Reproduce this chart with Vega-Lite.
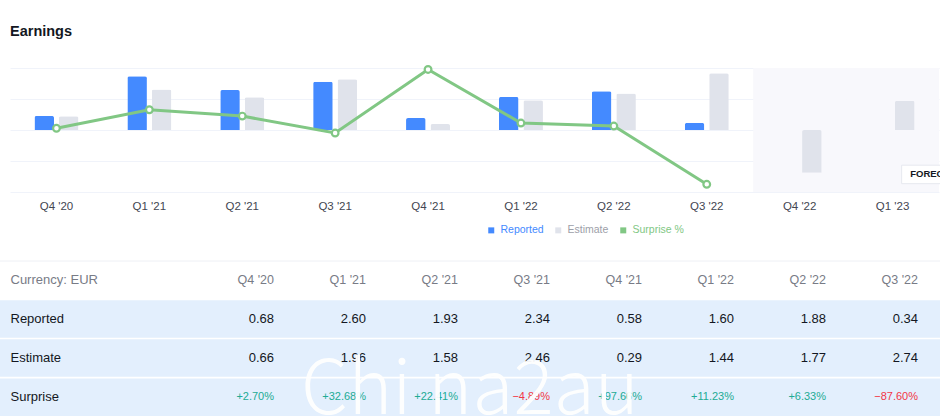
{
  "$schema": "https://vega.github.io/schema/vega-lite/v6.json",
  "width": 940,
  "height": 416,
  "padding": 0,
  "autosize": "none",
  "background": "white",
  "config": {"view": {"stroke": null}, "font": "Liberation Sans"},
  "title": {"text": "Earnings", "anchor": "start", "frame": "group", "offset": -50, "baseline": "alphabetic", "dx": 10, "fontSize": 14.5, "fontWeight": "bold", "color": "#131722"},
  "datasets": {
    "earnings": [
      {"quarter": "Q4 '20", "measure": "Reported", "value": 0.68},
      {"quarter": "Q4 '20", "measure": "Estimate", "value": 0.66},
      {"quarter": "Q4 '20", "measure": "Surprise", "value": 0.0270},
      {"quarter": "Q1 '21", "measure": "Reported", "value": 2.60},
      {"quarter": "Q1 '21", "measure": "Estimate", "value": 1.96},
      {"quarter": "Q1 '21", "measure": "Surprise", "value": 0.3268},
      {"quarter": "Q2 '21", "measure": "Reported", "value": 1.93},
      {"quarter": "Q2 '21", "measure": "Estimate", "value": 1.58},
      {"quarter": "Q2 '21", "measure": "Surprise", "value": 0.2241},
      {"quarter": "Q3 '21", "measure": "Reported", "value": 2.34},
      {"quarter": "Q3 '21", "measure": "Estimate", "value": 2.46},
      {"quarter": "Q3 '21", "measure": "Surprise", "value": -0.0489},
      {"quarter": "Q4 '21", "measure": "Reported", "value": 0.58},
      {"quarter": "Q4 '21", "measure": "Estimate", "value": 0.29},
      {"quarter": "Q4 '21", "measure": "Surprise", "value": 0.9766},
      {"quarter": "Q1 '22", "measure": "Reported", "value": 1.60},
      {"quarter": "Q1 '22", "measure": "Estimate", "value": 1.44},
      {"quarter": "Q1 '22", "measure": "Surprise", "value": 0.1123},
      {"quarter": "Q2 '22", "measure": "Reported", "value": 1.88},
      {"quarter": "Q2 '22", "measure": "Estimate", "value": 1.77},
      {"quarter": "Q2 '22", "measure": "Surprise", "value": 0.0633},
      {"quarter": "Q3 '22", "measure": "Reported", "value": 0.34},
      {"quarter": "Q3 '22", "measure": "Estimate", "value": 2.74},
      {"quarter": "Q3 '22", "measure": "Surprise", "value": -0.8760},
      {"quarter": "Q4 '22", "measure": "Estimate", "value": -2.07},
      {"quarter": "Q1 '23", "measure": "Estimate", "value": 1.42}
    ],
    "forecast": [{"quarter": "Q4 '22"}, {"quarter": "Q1 '23"}],
    "rows": [{"row": "Reported"}, {"row": "Estimate"}, {"row": "Surprise"}]
  },
  "layer": [
    {
      "layer": [
        {
          "layer": [
            {
              "data": {"name": "forecast"},
              "mark": {"type": "rect", "fill": "#f8f8fc"},
              "encoding": {
                "x": {"field": "quarter", "type": "nominal", "sort": null,
                      "scale": {"type": "band", "domain": ["Q4 '20","Q1 '21","Q2 '21","Q3 '21","Q4 '21","Q1 '22","Q2 '22","Q3 '22","Q4 '22","Q1 '23"], "range": [10, 939], "paddingInner": 0, "paddingOuter": 0},
                      "axis": {"orient": "bottom", "offset": -224, "title": null, "domain": false, "ticks": false, "grid": false, "labelPadding": 8, "labelFontSize": 11.5, "labelColor": "#434651", "labelAngle": 0}},
                "y": {"datum": 3, "type": "quantitative",
                      "scale": {"domain": [-3, 3], "range": [192, 68], "nice": false, "zero": false},
                      "axis": {"values": [-3, -1.5, 0, 1.5, 3], "grid": true, "gridColor": "#f0f3fa", "labels": false, "ticks": false, "domain": false, "title": null}},
                "y2": {"datum": -3}
              }
            },
            {
              "data": {"name": "earnings"},
              "transform": [{"filter": {"field": "measure", "oneOf": ["Reported", "Estimate"]}}],
              "mark": {"type": "bar", "cornerRadiusEnd": 2},
              "encoding": {
                "x": {"field": "quarter", "type": "nominal", "sort": null,
                      "scale": {"type": "band", "domain": ["Q4 '20","Q1 '21","Q2 '21","Q3 '21","Q4 '21","Q1 '22","Q2 '22","Q3 '22","Q4 '22","Q1 '23"], "range": [10, 939], "paddingInner": 0, "paddingOuter": 0},
                      "axis": {"orient": "bottom", "offset": -224, "title": null, "domain": false, "ticks": false, "grid": false, "labelPadding": 8, "labelFontSize": 11.5, "labelColor": "#434651", "labelAngle": 0}},
                "xOffset": {"field": "measure", "type": "nominal", "scale": {"domain": ["Reported", "Estimate"], "paddingInner": 0.2, "paddingOuter": 1}},
                "y": {"field": "value", "type": "quantitative",
                      "scale": {"domain": [-3, 3], "range": [192, 68], "nice": false, "zero": false},
                      "axis": {"values": [-3, -1.5, 0, 1.5, 3], "grid": true, "gridColor": "#f0f3fa", "labels": false, "ticks": false, "domain": false, "title": null}},
                "color": {"field": "measure", "type": "nominal",
                          "scale": {"domain": ["Reported", "Estimate", "Surprise %"], "range": ["#448aff", "#e0e3eb", "#81c784"]},
                          "legend": {"orient": "none", "legendX": 486, "legendY": 225, "direction": "horizontal", "title": null,
                                     "symbolType": "square", "symbolSize": 36, "symbolStrokeWidth": 0, "labelFontSize": 10.5, "labelOffset": 4, "columnPadding": 9, "padding": 0,
                                     "encode": {
                                       "symbols": {"update": {"fill": {"signal": "datum.value === 'Reported' ? '#448aff' : datum.value === 'Estimate' ? '#9da0a8' : '#81c784'"}, "stroke": {"value": "transparent"}, "opacity": {"value": 1}}},
                                       "labels": {"update": {"fill": {"signal": "datum.value === 'Reported' ? '#448aff' : datum.value === 'Estimate' ? '#9da0a8' : '#81c784'"}}}
                                     }}}
              }
            },
            {
              "data": {"values": [{"label": "FORECAST"}]},
              "mark": {"type": "point", "shape": "M-1,-0.22H1V0.22H-1Z", "filled": true, "fill": "white", "stroke": "#e6e8ef", "strokeWidth": 1, "size": 7056, "opacity": 1},
              "encoding": {
                "x": {"datum": "Q1 '23", "type": "nominal", "bandPosition": 1.05},
                "y": {"datum": -2.15, "type": "quantitative"}
              }
            },
            {
              "data": {"values": [{"label": "FORECAST"}]},
              "mark": {"type": "text", "align": "left", "baseline": "middle", "fontSize": 9.5, "fontWeight": 600, "color": "#131722"},
              "encoding": {
                "x": {"datum": "Q1 '23", "type": "nominal", "bandPosition": 0.69},
                "y": {"datum": -2.15, "type": "quantitative"},
                "text": {"field": "label"}
              }
            }
          ]
        },
        {
          "data": {"name": "earnings"},
          "transform": [{"filter": {"field": "measure", "equal": "Surprise"}}],
          "encoding": {
            "x": {"field": "quarter", "type": "nominal", "sort": null},
            "y": {"field": "value", "type": "quantitative", "scale": {"domain": [-1, 1], "range": [192, 68], "nice": false, "zero": false}, "axis": null}
          },
          "layer": [
            {"mark": {"type": "line", "color": "#81c784", "strokeWidth": 3}},
            {"mark": {"type": "point", "filled": true, "fill": "white", "stroke": "#81c784", "strokeWidth": 2.2, "size": 45, "opacity": 1}}
          ]
        }
      ],
      "resolve": {"scale": {"y": "independent"}}
    },
    {
      "layer": [
        {
          "data": {"values": [{"line": "top"}]},
          "mark": {"type": "rule", "color": "#eef0f5", "strokeWidth": 1},
          "encoding": {
            "y": {"datum": "Currency: EUR", "type": "nominal", "bandPosition": 0,
                  "scale": {"type": "band", "domain": ["Currency: EUR", "Reported", "Estimate", "Surprise"], "range": [261, 416], "paddingInner": 0.04, "paddingOuter": 0},
                  "axis": {"orient": "left", "zindex": 2, "title": null, "domain": false, "ticks": false, "grid": false, "labelAlign": "left", "labelPadding": -10, "labelFontSize": 13, "labelBaseline": "middle",
                           "labelColor": {"condition": {"test": "datum.value === 'Currency: EUR'", "value": "#787b86"}, "value": "#131722"}}}
          }
        },
        {
          "data": {"name": "rows"},
          "mark": {"type": "rect", "fill": "#e3effd"},
          "encoding": {
            "y": {"field": "row", "type": "nominal",
                  "scale": {"type": "band", "domain": ["Currency: EUR", "Reported", "Estimate", "Surprise"], "range": [261, 416], "paddingInner": 0.04, "paddingOuter": 0},
                  "axis": {"orient": "left", "zindex": 2, "title": null, "domain": false, "ticks": false, "grid": false, "labelAlign": "left", "labelPadding": -10, "labelFontSize": 13, "labelBaseline": "middle",
                           "labelColor": {"condition": {"test": "datum.value === 'Currency: EUR'", "value": "#787b86"}, "value": "#131722"}}}
          }
        },
        {
          "data": {"name": "earnings"},
          "transform": [
            {"filter": {"field": "measure", "equal": "Reported"}}
          ],
          "mark": {"type": "text", "align": "right", "baseline": "middle", "fontSize": 12.5, "color": "#787b86"},
          "encoding": {
            "x": {"field": "quarter", "type": "nominal", "sort": null, "bandPosition": 1,
                  "scale": {"type": "band", "domain": ["Q4 '20","Q1 '21","Q2 '21","Q3 '21","Q4 '21","Q1 '22","Q2 '22","Q3 '22"], "range": [182, 918], "paddingInner": 0, "paddingOuter": 0}, "axis": null},
            "y": {"datum": "Currency: EUR", "type": "nominal"},
            "text": {"field": "quarter"}
          }
        },
        {
          "data": {"name": "earnings"},
          "transform": [
            {"filter": {"field": "measure", "oneOf": ["Reported", "Estimate"]}},
            {"filter": {"field": "quarter", "oneOf": ["Q4 '20","Q1 '21","Q2 '21","Q3 '21","Q4 '21","Q1 '22","Q2 '22","Q3 '22"]}}
          ],
          "mark": {"type": "text", "align": "right", "baseline": "middle", "fontSize": 13, "color": "#131722"},
          "encoding": {
            "x": {"field": "quarter", "type": "nominal", "sort": null, "bandPosition": 1},
            "y": {"field": "measure", "type": "nominal"},
            "text": {"field": "value", "type": "quantitative", "format": ".2f"}
          }
        },
        {
          "data": {"name": "earnings"},
          "transform": [
            {"filter": {"field": "measure", "equal": "Surprise"}}
          ],
          "mark": {"type": "text", "align": "right", "baseline": "middle", "fontSize": 11},
          "encoding": {
            "x": {"field": "quarter", "type": "nominal", "sort": null, "bandPosition": 1},
            "y": {"field": "measure", "type": "nominal"},
            "text": {"field": "value", "type": "quantitative", "format": "+.2%"},
            "color": {"condition": {"test": "datum.value < 0", "value": "#f23645"}, "value": "#22ab94"}
          }
        },
        {
          "data": {"values": [{"mark": "Chi na2au"}]},
          "mark": {"type": "text", "align": "center", "baseline": "alphabetic", "fontSize": 75, "font": "Noto Sans CJK SC", "fontWeight": 300, "color": "white", "opacity": 0.95, "dy": -2},
          "encoding": {
            "x": {"datum": "Q3 '21", "type": "nominal", "bandPosition": 0.13},
            "y": {"datum": "Surprise", "type": "nominal", "bandPosition": 1},
            "text": {"field": "mark"}
          }
        }
      ]
    }
  ],
  "resolve": {"scale": {"x": "independent", "y": "independent"}}
}
